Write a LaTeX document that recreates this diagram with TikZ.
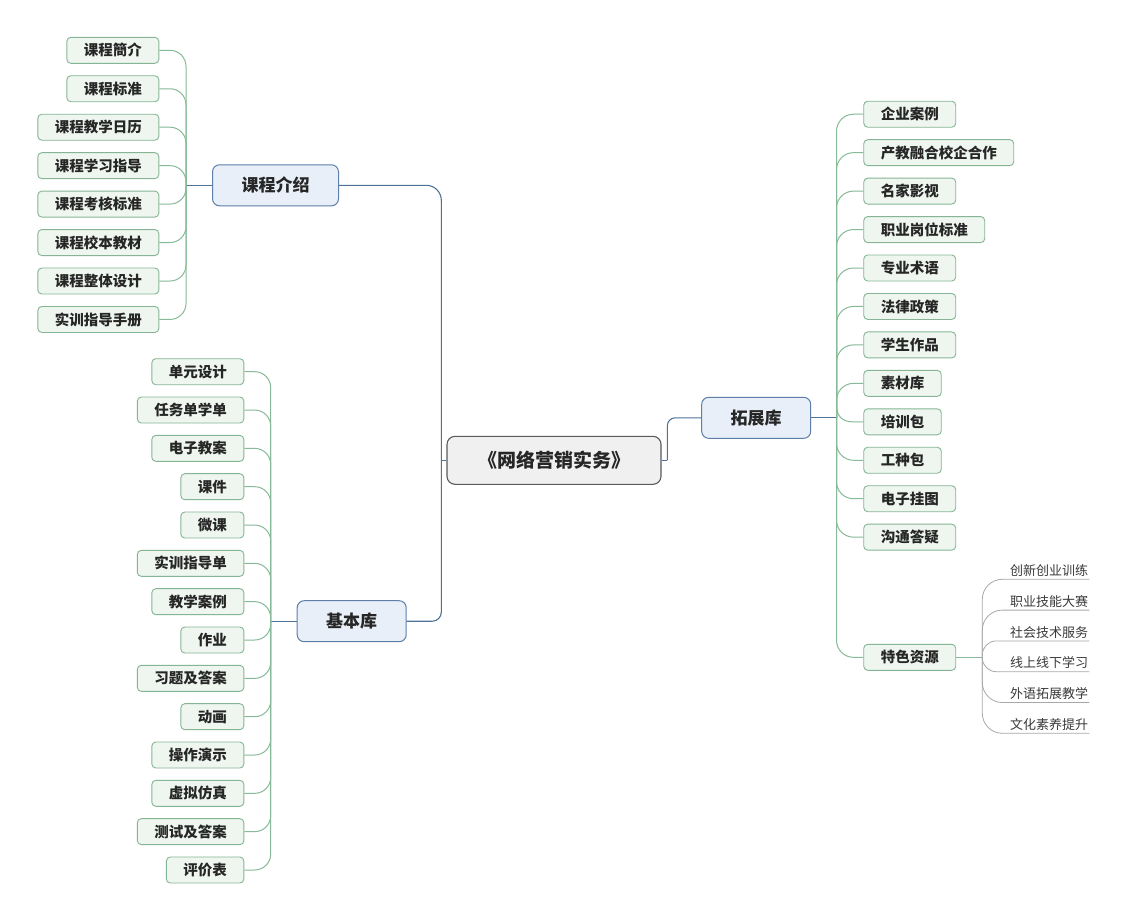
\documentclass[tikz,border=0pt]{standalone}
\usepackage{fontspec}
\setmainfont{Noto Sans CJK SC}
\definecolor{cborder}{HTML}{86B595}
\definecolor{cfill}{HTML}{EEF6EF}
\definecolor{gline}{HTML}{86BA98}
\definecolor{tfill}{HTML}{E8EFF8}
\definecolor{tborder}{HTML}{5D7FA8}
\definecolor{bline}{HTML}{4F7299}
\definecolor{rfill}{HTML}{F0F0F0}
\definecolor{rborder}{HTML}{5A5A5A}
\definecolor{ctext}{HTML}{262626}
\definecolor{ltext}{HTML}{3A3A3A}
\definecolor{lline}{HTML}{A8A8A8}
\tikzset{
 cbox/.style={draw=cborder, fill=cfill, rounded corners=4pt, line width=0.9pt, minimum height=26pt, inner xsep=17pt, inner ysep=0pt, font=\fontsize{14.5}{14.5}\selectfont\bfseries, text=ctext},
 tbox/.style={draw=tborder, fill=tfill, rounded corners=7pt, line width=1pt, minimum height=41pt, inner xsep=29pt, inner ysep=0pt, font=\fontsize{17}{17}\selectfont\bfseries, text=ctext},
 rootbox/.style={draw=rborder, fill=rfill, rounded corners=8pt, line width=1.1pt, minimum width=214pt, minimum height=48pt, inner ysep=0pt, font=\fontsize{19}{19}\selectfont\bfseries, text=ctext},
 leaf/.style={inner xsep=1pt, inner ysep=2.5pt, font=\fontsize{13}{13}\selectfont, text=ltext, anchor=south west},
 bconn/.style={draw=bline, line width=1.1pt},
 gconn/.style={draw=gline, line width=1pt},
 lconn/.style={draw=lline, line width=0.8pt},
}
\begin{document}
\begin{tikzpicture}[x=1pt,y=-1pt]
\fill[white] (0,0) rectangle (1128,922);
\useasboundingbox (0,0) rectangle (1128,922);

% root and main topics
\node[rootbox] (root) at (554,460.3) {《网络营销实务》};
\node[tbox] (intro) at (275.5,185.3) {课程介绍};
\node[tbox] (basic) at (351.7,621.2) {基本库};
\node[tbox] (ext) at (756.2,417.8) {拓展库};

% main connectors
\coordinate (mt) at (441.3,460.3);
\coordinate (mr) at (667.3,460.3);
\draw[bconn] (root.west) -- (mt);
\draw[bconn, rounded corners=15pt] (intro.east) -| (mt);
\draw[bconn, rounded corners=9pt] (basic.east) -| (mt);
\draw[bconn] (root.east) -- (mr);
\draw[bconn, rounded corners=8pt] (ext.west) -| (mr);

% group 1
\foreach \i/\t in {0/课程簡介,1/课程标准,2/课程教学日历,3/课程学习指导,4/课程考核标准,5/课程校本教材,6/课程整体设计,7/实训指导手册}{
  \node[cbox, anchor=east] (a\i) at (159.3,50.3+38.45*\i) {\t};
}
\coordinate (t1) at (186,185.3);
\draw[bconn] (intro.west) -- (t1);
\foreach \i in {0,...,7}{
  \draw[gconn, rounded corners=16pt] (a\i.east) -| (t1);
}

% group 2
\foreach \i/\t in {0/单元设计,1/任务单学单,2/电子教案,3/课件,4/微课,5/实训指导单,6/教学案例,7/作业,8/习题及答案,9/动画,10/操作演示,11/虚拟仿真,12/测试及答案,13/评价表}{
  \node[cbox, anchor=east] (b\i) at (244.3,371.7+38.33*\i) {\t};
}
\coordinate (t2) at (270.7,621.2);
\draw[bconn] (basic.west) -- (t2);
\foreach \i in {0,...,13}{
  \draw[gconn, rounded corners=16pt] (b\i.east) -| (t2);
}

% group 3
\foreach \i/\t in {0/企业案例,1/产教融合校企合作,2/名家影视,3/职业岗位标准,4/专业术语,5/法律政策,6/学生作品,7/素材库,8/培训包,9/工种包,10/电子挂图,11/沟通答疑}{
  \node[cbox, anchor=west] (c\i) at (863.3,114.2+38.45*\i) {\t};
}
\node[cbox, anchor=west] (sp) at (863.3,657.3) {特色资源};
\coordinate (t3) at (836.5,417.8);
\coordinate (t3a) at (836.5,405);
\draw[bconn] (ext.east) -- (t3);
\foreach \i in {0,...,7,9,10,11}{
  \draw[gconn, rounded corners=17pt] (c\i.west) -| (t3);
}
\draw[gconn] (t3a) -- (t3);
\draw[gconn] (t3a) .. controls (836.5,416) and (842,421.8) .. (853,421.8) -- (c8.west);
\draw[gconn, rounded corners=17pt] (sp.west) -| (t3);

% special resources
\foreach \i/\t in {0/创新创业训练,1/职业技能大赛,2/社会技术服务,3/线上线下学习,4/外语拓展教学,5/文化素养提升}{
  \node[leaf] (d\i) at (1009,579.3+30.8*\i) {\t};
}
\coordinate (t4) at (982.3,657.3);
\draw[gconn] (sp.east) -- (t4);
\foreach \i in {0,1,4,5}{
  \draw[lconn, rounded corners=20pt] (d\i.south east) -| (t4);
}
\foreach \i in {2,3}{
  \draw[lconn, rounded corners=14pt] (d\i.south east) -| (t4);
}
\end{tikzpicture}
\end{document}
